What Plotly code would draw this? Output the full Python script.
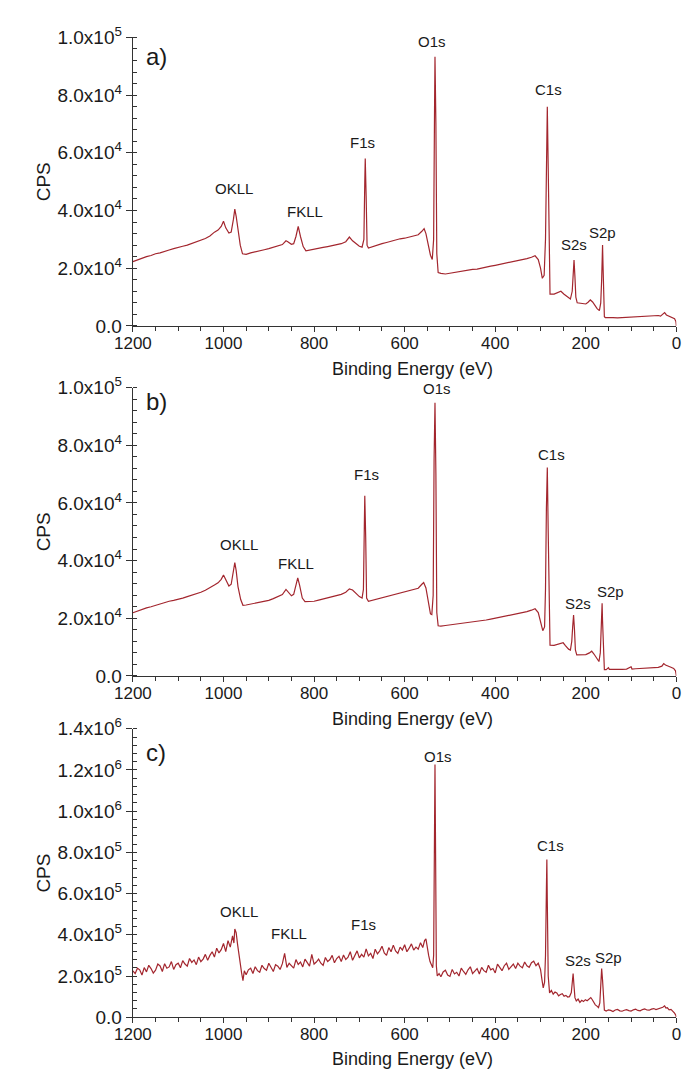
import plotly.graph_objects as go

# ---------------- data ----------------
# Panel a): binding energy (eV) and counts (kCPS)
E_a = [1200, 1190, 1180, 1170, 1160, 1150, 1140, 1130, 1120, 1110, 1100, 1090, 1080, 1070, 1060, 1050,
       1040, 1030, 1020, 1012, 1005, 1000, 995, 988, 983, 978, 975, 972, 968, 963, 958, 950, 940, 930,
       920, 910, 900, 890, 880, 870, 862, 858, 850, 845, 840, 835, 830, 824, 818, 810, 800, 790, 780,
       770, 760, 750, 740, 730, 722, 715, 708, 700, 694, 690, 688, 687, 685, 683, 680, 670, 660, 650,
       640, 630, 620, 610, 600, 590, 580, 570, 562, 557, 553, 548, 543, 539, 536, 534, 533, 531, 529,
       526, 520, 510, 500, 490, 480, 470, 460, 450, 440, 430, 420, 410, 400, 390, 380, 370, 360, 350,
       340, 330, 320, 312, 305, 300, 296, 292, 289, 287, 285, 283, 281, 279, 270, 260, 255, 248, 240,
       234, 230, 228, 226, 224, 222, 219, 210, 200, 195, 190, 185, 180, 175, 170, 167, 165, 164, 163,
       162, 161, 159, 157, 150, 140, 130, 120, 110, 100, 90, 80, 70, 60, 50, 40, 35, 30, 26, 22, 18,
       12, 8, 4, 1, 0]
cps_a = [22.3, 22.9, 23.5, 24.0, 24.4, 25.0, 25.3, 25.9, 26.3, 26.8, 27.1, 27.6, 28.0, 28.6, 29.0, 29.6,
         30.3, 31.2, 32.5, 33.2, 34.5, 36.3, 34.0, 32.2, 32.5, 37.0, 40.5, 38.0, 33.5, 28.0, 25.0, 24.8,
         25.3, 25.6, 26.0, 26.4, 26.8, 27.3, 27.6, 28.2, 29.5, 29.2, 28.3, 28.5, 31.0, 34.5, 31.0, 27.5,
         26.0, 26.3, 26.5, 26.9, 27.2, 27.5, 27.8, 28.1, 28.5, 29.2, 30.8, 29.5, 28.6, 27.6, 27.3, 30.0,
         50.0, 58.0, 45.0, 28.0, 27.0, 27.5, 28.2, 28.5, 28.9, 29.4, 29.8, 30.2, 30.4, 30.8, 31.2, 31.6,
         32.8, 33.7, 32.0, 28.0, 24.5, 23.0, 30.0, 75.0, 93.3, 70.0, 25.0, 18.5, 18.2, 18.0, 18.3, 18.5,
         18.9, 19.0, 19.3, 19.6, 19.7, 20.1, 20.4, 20.7, 21.0, 21.3, 21.6, 22.0, 22.3, 22.6, 22.9, 23.3,
         23.8, 24.3, 23.0, 20.0, 16.5, 17.5, 30.0, 60.0, 76.0, 55.0, 20.0, 11.0, 11.0, 11.5, 12.0, 11.0,
         10.0, 9.3, 12.0, 18.0, 22.8, 17.0, 10.0, 8.0, 7.8, 7.6, 8.2, 9.0, 8.3, 7.0, 6.0, 5.3, 8.0, 16.0,
         22.0, 28.0, 21.0, 9.0, 3.2, 2.9, 2.8, 2.9, 2.8, 2.9, 3.0, 3.0, 3.1, 3.2, 3.2, 3.3, 3.4, 3.6,
         3.4, 4.0, 4.6, 3.8, 3.5, 3.3, 3.0, 2.5, 1.5, 0.0]

# Panel b)
E_b = [1200, 1190, 1180, 1170, 1160, 1150, 1140, 1130, 1120, 1110, 1100, 1090, 1080, 1070, 1060, 1050,
       1040, 1030, 1020, 1012, 1005, 1000, 995, 988, 983, 978, 975, 972, 968, 962, 957, 950, 940, 930,
       920, 910, 900, 890, 880, 870, 862, 857, 850, 845, 840, 836, 832, 826, 820, 810, 800, 790, 780,
       770, 760, 750, 740, 730, 722, 715, 708, 700, 694, 691, 689, 688, 686, 684, 680, 670, 660, 650,
       640, 630, 620, 610, 600, 590, 580, 570, 562, 558, 553, 548, 543, 540, 537, 535, 533, 531, 529,
       526, 520, 510, 500, 490, 480, 470, 460, 450, 440, 430, 420, 410, 400, 390, 380, 370, 360, 350,
       340, 330, 320, 312, 305, 300, 295, 291, 289, 287, 285, 283, 281, 279, 270, 260, 250, 245, 238,
       234, 231, 229, 227, 225, 223, 220, 210, 200, 192, 187, 182, 176, 171, 168, 166, 165, 164, 163,
       161, 159, 155, 150, 148, 140, 130, 120, 110, 100, 98, 90, 80, 70, 60, 50, 40, 32, 28, 24, 18,
       12, 6, 2, 0]
cps_b = [21.9, 22.5, 23.0, 23.6, 24.0, 24.5, 25.0, 25.4, 25.9, 26.2, 26.5, 27.0, 27.5, 28.0, 28.4, 29.0,
         29.7, 30.5, 31.5, 32.3, 33.5, 35.0, 33.2, 31.2, 31.8, 36.0, 39.3, 36.5, 31.0, 26.5, 24.5, 24.6,
         24.9, 25.2, 25.5, 25.9, 26.2, 26.8, 27.4, 28.2, 30.0, 29.0, 27.8, 28.3, 31.0, 34.0, 31.5, 27.0,
         25.8, 25.8, 25.9, 26.3, 26.7, 27.0, 27.4, 27.8, 28.3, 29.0, 30.2, 29.8, 28.8, 27.5, 27.0, 30.0,
         52.0, 62.5, 48.0, 27.0, 25.9, 26.3, 26.9, 27.3, 27.7, 28.0, 28.4, 28.8, 29.1, 29.5, 29.9, 30.4,
         31.8, 32.4, 30.5, 25.5, 21.5, 21.3, 28.0, 75.0, 94.7, 70.0, 22.0, 17.4, 17.3, 17.5, 17.7, 17.9,
         18.1, 18.3, 18.4, 18.6, 18.9, 19.2, 19.4, 19.7, 20.0, 20.3, 20.6, 20.9, 21.3, 21.6, 21.9, 22.3,
         22.8, 23.3, 22.0, 18.5, 15.7, 17.0, 30.0, 58.0, 72.3, 50.0, 18.0, 10.7, 10.6, 11.0, 11.5, 10.5,
         9.3, 9.0, 12.0, 17.0, 21.1, 16.0, 9.0, 7.3, 7.3, 7.4, 8.0, 8.6, 7.6, 6.0, 5.0, 8.0, 15.0, 20.0,
         25.2, 19.0, 6.0, 2.2, 2.2, 2.9, 2.3, 2.2, 2.3, 2.3, 2.4, 3.2, 2.4, 2.5, 2.6, 2.7, 2.8, 2.9,
         3.0, 3.4, 4.3, 3.8, 3.3, 3.0, 2.6, 1.8, 0.0]

# Panel c) (noisy survey)
E_c = [1200, 1195, 1190, 1185, 1180, 1175, 1170, 1165, 1160, 1155, 1150, 1145, 1140, 1135, 1130, 1125,
       1120, 1115, 1110, 1105, 1100, 1095, 1090, 1085, 1080, 1075, 1070, 1065, 1060, 1055, 1050, 1045,
       1040, 1035, 1030, 1025, 1020, 1015, 1010, 1005, 1000, 995, 990, 985, 980, 977, 975, 972, 969,
       966, 963, 960, 957, 954, 950, 945, 940, 935, 930, 925, 920, 915, 910, 905, 900, 895, 890, 885,
       880, 875, 870, 865, 860, 855, 850, 845, 840, 835, 830, 825, 820, 815, 810, 805, 800, 795, 790,
       785, 780, 775, 770, 765, 760, 755, 750, 745, 740, 735, 730, 725, 720, 715, 710, 705, 700, 695,
       690, 685, 680, 675, 670, 665, 660, 655, 650, 645, 640, 635, 630, 625, 620, 615, 610, 605, 600,
       595, 590, 585, 580, 575, 570, 565, 560, 556, 553, 550, 547, 544, 541, 538, 536, 534, 533, 532,
       530, 528, 524, 520, 515, 510, 505, 500, 495, 490, 485, 480, 475, 470, 465, 460, 455, 450, 445,
       440, 435, 430, 425, 420, 415, 410, 405, 400, 395, 390, 385, 380, 375, 370, 365, 360, 355, 350,
       345, 340, 335, 330, 325, 320, 315, 310, 305, 300, 297, 294, 291, 289, 287, 286, 285, 283, 280,
       276, 272, 268, 264, 260, 256, 252, 248, 244, 240, 236, 232, 230, 228, 226, 224, 221, 217, 213,
       209, 205, 201, 197, 193, 189, 186, 183, 179, 176, 172, 169, 167, 165, 163, 161, 159, 155, 150,
       145, 140, 135, 130, 125, 120, 115, 110, 105, 100, 95, 90, 85, 80, 75, 70, 65, 60, 55, 50, 45,
       40, 35, 30, 26, 23, 20, 16, 12, 8, 4, 1, 0]
cps_c = [225, 212, 238, 230, 205, 241, 220, 252, 236, 214, 228, 258, 249, 222, 260, 238,
         244, 270, 232, 255, 262, 240, 275, 258, 248, 285, 266, 278, 255, 292, 270, 282,
         305, 276, 300, 318, 292, 335, 312, 328, 358, 318, 372, 340, 395, 360, 428, 410, 355,
         300, 255, 215, 178, 225, 206, 230, 238, 212, 245, 226, 218, 252, 236, 228, 262, 240, 222, 255,
         248, 232, 260, 310, 242, 262, 250, 238, 280, 256, 268, 244, 282, 262, 248, 305, 258, 268, 282,
         262, 252, 290, 270, 280, 300, 264, 285, 296, 270, 302, 280, 292, 318, 276, 298, 322, 288, 305,
         292, 332, 298, 310, 285, 330, 308, 322, 345, 312, 300, 338, 318, 350, 322, 310, 340, 326, 352,
         318, 335, 356, 326, 340, 330, 362, 338, 372, 380, 330, 300, 270, 255, 240, 300, 800, 1227, 900,
         250, 200, 212, 196, 220, 228, 205, 198, 232, 210, 218, 200, 238, 222, 208, 230, 245, 212, 225,
         236, 210, 242, 226, 218, 252, 230, 236, 215, 258, 240, 226, 250, 262, 232, 245, 258, 236, 262,
         248, 240, 268, 250, 242, 265, 272, 250, 262, 232, 185, 142, 170, 300, 620, 766, 560, 200, 118,
         130, 112, 122, 118, 104, 110, 114, 102, 106, 98, 100, 120, 160, 212, 150, 95, 79, 88, 72,
         82, 76, 85, 80, 88, 95, 86, 72, 60, 55, 47, 70, 140, 236, 180, 80, 35, 30, 36,
         33, 28, 35, 38, 31, 29, 34, 37, 32, 30, 36, 39, 33, 31, 37, 40, 35, 34, 39, 42, 37,
         40, 44, 48, 55, 44, 46, 36, 38, 30, 20, 8, 0]
assert len(E_c) == len(cps_c) and len(E_a) == len(cps_a) and len(E_b) == len(cps_b)

# peak labels: (text, energy, kCPS position)
labels_a = [("OKLL", 976, 47.8), ("FKLL", 820, 39.7), ("F1s", 694, 63.6), ("O1s", 539, 98.6),
            ("C1s", 283, 81.8), ("S2s", 226, 28.3), ("S2p", 164, 32.3)]
labels_b = [("OKLL", 965, 45.5), ("FKLL", 840, 39.0), ("F1s", 685, 69.7), ("O1s", 528, 99.7),
            ("C1s", 276, 76.8), ("S2s", 218, 25.0), ("S2p", 146, 29.4)]
labels_c = [("OKLL", 965, 511), ("FKLL", 856, 407), ("F1s", 690, 449), ("O1s", 527, 1267),
            ("C1s", 279, 834), ("S2s", 218, 274), ("S2p", 149, 290)]

x_ticks = [1200, 1000, 800, 600, 400, 200, 0]
y_ticks_ab = [0, 20000, 40000, 60000, 80000, 100000]
y_text_ab = ["0.0", "2.0x10<sup>4</sup>", "4.0x10<sup>4</sup>", "6.0x10<sup>4</sup>",
             "8.0x10<sup>4</sup>", "1.0x10<sup>5</sup>"]
y_ticks_c = [0, 200000, 400000, 600000, 800000, 1000000, 1200000, 1400000]
y_text_c = ["0.0", "2.0x10<sup>5</sup>", "4.0x10<sup>5</sup>", "6.0x10<sup>5</sup>",
            "8.0x10<sup>5</sup>", "1.0x10<sup>6</sup>", "1.2x10<sup>6</sup>", "1.4x10<sup>6</sup>"]

# ---------------- figure ----------------
W, H = 692, 1082
LINE = "#a3262e"
FONT = "Liberation Sans, Arial, sans-serif"
TXT = "#1a1a1a"

fig = go.Figure()
panels = [
    (E_a, cps_a, 1e3, labels_a, "x", "y"),
    (E_b, cps_b, 1e3, labels_b, "x2", "y2"),
    (E_c, cps_c, 1e3, labels_c, "x3", "y3"),
]
for E, v, scale, labs, xa, ya in panels:
    fig.add_trace(go.Scatter(x=E, y=[q * scale for q in v], mode="lines",
                             line=dict(color=LINE, width=1.2), xaxis=xa, yaxis=ya,
                             showlegend=False, hoverinfo="skip"))
    for t, e, q in labs:
        fig.add_annotation(x=e, y=q * scale, xref=xa, yref=ya, text=t, showarrow=False,
                           font=dict(family=FONT, size=15, color=TXT),
                           xanchor="center", yanchor="middle")

xdom = [118 / W, 681 / W]
ypix = [(25, 320), (383, 678), (732, 1027)]
ydoms = [[1 - b / H, 1 - t / H] for t, b in ypix]

def xax(anchor):
    return dict(domain=xdom, range=[1200, 0], anchor=anchor, tickvals=x_ticks,
                ticks="outside", ticklen=5, tickwidth=1.2, tickcolor="#333",
                ticklabelstandoff=-4,
                showline=True, linecolor="#333", linewidth=1.4, showgrid=False, zeroline=False,
                tickfont=dict(family=FONT, size=17, color=TXT),
                minor=dict(dtick=50, ticks="outside", ticklen=4, tickcolor="#333", tickwidth=1,
                           showgrid=False))

def yax(anchor, dom, rng, tv, tt, mdt):
    return dict(domain=dom, range=rng, anchor=anchor, tickvals=tv, ticktext=tt,
                ticks="outside", ticklen=6, tickwidth=1.2, tickcolor="#333",
                showline=True, linecolor="#333", linewidth=1.4, showgrid=False, zeroline=False,
                tickfont=dict(family=FONT, size=19, color=TXT),
                minor=dict(dtick=mdt, ticks="inside", ticklen=4, tickcolor="#333", tickwidth=1,
                           showgrid=False))

fig.update_layout(
    width=W, height=H, margin=dict(l=0, r=0, t=0, b=0),
    paper_bgcolor="white", plot_bgcolor="white",
    xaxis=xax("y"), xaxis2=xax("y2"), xaxis3=xax("y3"),
    yaxis=yax("x", ydoms[0], [0, 100000], y_ticks_ab, y_text_ab, 4000),
    yaxis2=yax("x2", ydoms[1], [0, 100000], y_ticks_ab, y_text_ab, 4000),
    yaxis3=yax("x3", ydoms[2], [0, 1400000], y_ticks_c, y_text_c, 40000),
)

# axis titles and panel letters (paper coordinates)
title_y = [364, 722, 1070]
cps_y = [173, 531, 880]
letters = [("a)", 44), ("b)", 397), ("c)", 756)]
for ty in title_y:
    fig.add_annotation(x=408 / W, y=1 - ty / H, xref="paper", yref="paper",
                       text="Binding Energy (eV)", showarrow=False,
                       font=dict(family=FONT, size=18, color=TXT), xanchor="center", yanchor="middle")
for cy in cps_y:
    fig.add_annotation(x=25 / W, y=1 - cy / H, xref="paper", yref="paper", text="CPS",
                       textangle=-90, showarrow=False,
                       font=dict(family=FONT, size=19, color=TXT), xanchor="center", yanchor="middle")
for t, ly in letters:
    fig.add_annotation(x=142 / W, y=1 - ly / H, xref="paper", yref="paper", text=t,
                       showarrow=False, font=dict(family=FONT, size=24, color=TXT),
                       xanchor="center", yanchor="middle")

fig.write_html("out.html")
